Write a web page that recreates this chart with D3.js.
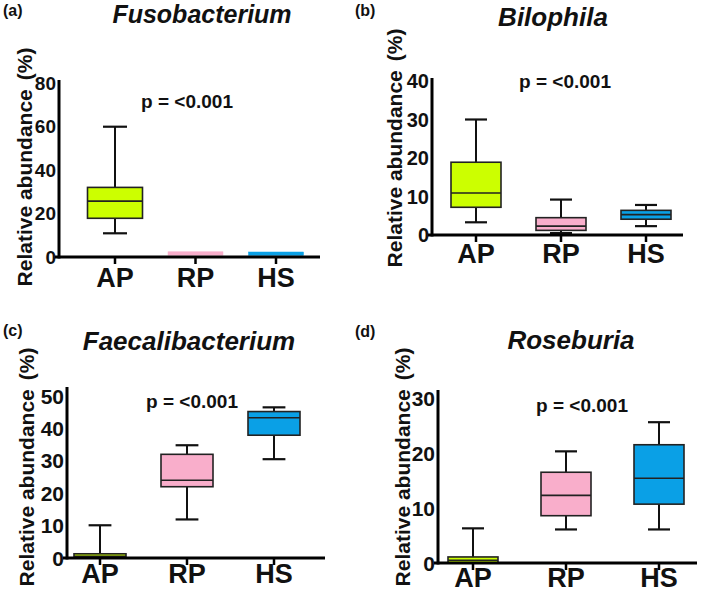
<!DOCTYPE html>
<html><head><meta charset="utf-8">
<script src="https://cdn.jsdelivr.net/npm/d3@7"></script>
<style>
body{margin:0;background:#fff}
svg{display:block}
text{font-family:"Liberation Sans",Arial,Helvetica,sans-serif;font-weight:bold;fill:#111}
</style>
</head><body>
<svg id="chart" width="709" height="597"></svg>
<script>
// ---------- data ----------
const groups = ["AP", "RP", "HS"];
const genera = ["Fusobacterium", "Bilophila", "Faecalibacterium", "Roseburia"];
const panelTags = ["(a)", "(b)", "(c)", "(d)"];
const pValueText = "p = <0.001";
const yTitleText = "Relative abundance";
const yUnitText = "(%)";
const yMaxValues = [80, 40, 50, 30];
const yTicksFuso = [0, 20, 40, 60, 80];
const yTicksBilo = [0, 10, 20, 30, 40];
const yTicksFaec = [0, 10, 20, 30, 40, 50];
const yTicksRose = [0, 10, 20, 30];
// five-number summaries per group: [min, q1, median, q3, max]
const fusobacterium    = [[10.9, 17.8, 25.7, 32.0, 59.9], [0.8, 0.8, 1.6, 2.4, 2.4], [0.7, 0.7, 1.5, 2.3, 2.3]];
const bilophila        = [[3.3, 7.2, 10.9, 18.9, 30.0], [0.5, 1.2, 2.3, 4.5, 9.2], [2.3, 4.1, 5.3, 6.4, 7.8]];
const faecalibacterium = [[0, 0, 0.5, 1.3, 10.1], [11.9, 22.0, 24.0, 32.0, 34.8], [30.5, 37.9, 43.3, 45.2, 46.5]];
const roseburia        = [[0, 0, 0.5, 1.1, 6.3], [6.1, 8.6, 12.3, 16.5, 20.3], [6.1, 10.7, 15.4, 21.5, 25.6]];

// ---------- styling / layout ----------
const groupColors = ["#ccff00", "#f9aecb", "#0aa0e6"];
const panelData = [fusobacterium, bilophila, faecalibacterium, roseburia];
const panelTicks = [yTicksFuso, yTicksBilo, yTicksFaec, yTicksRose];
const layout = [
  {axisX:59,  y0:257, yTop:83,  axisTop:80,  xEnd:320, c0:115, c2:276, boxW:55, titleX:202, titleY:23,  titleFs:25, pX:187, pY:108, tagX:3,   tagY:16,  ytX:32,  ytY:167, xLabY:287, tickFs:19},
  {axisX:432, y0:235, yTop:81,  axisTop:78,  xEnd:683, c0:476, c2:646, boxW:50, titleX:553, titleY:26,  titleFs:26, pX:565, pY:88,  tagX:355, tagY:16,  ytX:402, ytY:148, xLabY:263, tickFs:20},
  {axisX:67,  y0:558, yTop:396, axisTop:387, xEnd:325, c0:100, c2:274, boxW:52, titleX:189, titleY:350, titleFs:26, pX:192, pY:408, tagX:3,   tagY:336, ytX:34,  ytY:467, xLabY:583, tickFs:21},
  {axisX:438, y0:563, yTop:398, axisTop:390, xEnd:697, c0:473, c2:659, boxW:50, titleX:571, titleY:349, titleFs:26, pX:582, pY:412, tagX:355, tagY:337, ytX:410, ytY:467, xLabY:587, tickFs:21}
];

const svg = d3.select("#chart");

panelData.forEach((data, i) => {
  const L = layout[i];
  const g = svg.append("g");
  const y = d3.scaleLinear().domain([0, yMaxValues[i]]).range([L.y0, L.yTop]);
  const x = d3.scalePoint().domain(groups).range([L.c0, L.c2]);

  // panel tag
  g.append("text").attr("x", L.tagX).attr("y", L.tagY).attr("font-size", 16).text(panelTags[i]);
  // title
  g.append("text").attr("x", L.titleX).attr("y", L.titleY).attr("text-anchor", "middle")
    .attr("font-size", L.titleFs).attr("font-style", "italic").text(genera[i]);
  // p value
  g.append("text").attr("x", L.pX).attr("y", L.pY).attr("text-anchor", "middle")
    .attr("font-size", 19).text(pValueText);
  // y title
  const yt = g.append("text").attr("transform", `translate(${L.ytX},${L.ytY}) rotate(-90)`)
    .attr("text-anchor", "middle").attr("font-size", 21);
  yt.append("tspan").text(yTitleText);
  yt.append("tspan").attr("dx", 9).text(yUnitText);

  // y tick labels
  g.selectAll(".yt").data(panelTicks[i]).join("text")
    .attr("x", L.axisX - 3).attr("y", d => y(d)).attr("dy", "0.36em")
    .attr("text-anchor", "end").attr("font-size", L.tickFs).text(d => d);

  // boxes
  data.forEach((s, j) => {
    const [mn, q1, md, q3, mx] = s;
    const cx = x(groups[j]);
    const w = L.boxW, cap = w * 0.4;
    const bg = g.append("g");
    if (mx > q3) {
      bg.append("line").attr("x1", cx).attr("x2", cx).attr("y1", y(q3)).attr("y2", y(mx)).attr("stroke", "#111").attr("stroke-width", 2);
      bg.append("line").attr("x1", cx - cap / 2 - 1).attr("x2", cx + cap / 2 + 1).attr("y1", y(mx)).attr("y2", y(mx)).attr("stroke", "#111").attr("stroke-width", 2.2);
    }
    if (mn < q1) {
      bg.append("line").attr("x1", cx).attr("x2", cx).attr("y1", y(q1)).attr("y2", y(mn)).attr("stroke", "#111").attr("stroke-width", 2);
      bg.append("line").attr("x1", cx - cap / 2 - 1).attr("x2", cx + cap / 2 + 1).attr("y1", y(mn)).attr("y2", y(mn)).attr("stroke", "#111").attr("stroke-width", 2.2);
    }
    const h = y(q1) - y(q3);
    const thin = h < 4;
    bg.append("rect").attr("x", cx - w / 2).attr("y", y(q3)).attr("width", w).attr("height", Math.max(h, 1))
      .attr("fill", groupColors[j]).attr("stroke", thin ? groupColors[j] : "#222").attr("stroke-width", thin ? 0.5 : 1.6);
    if (!thin) {
      bg.append("line").attr("x1", cx - w / 2).attr("x2", cx + w / 2).attr("y1", y(md)).attr("y2", y(md))
        .attr("stroke", "#222").attr("stroke-width", 1.6);
    }
  });

  // axes
  g.append("line").attr("x1", L.axisX).attr("x2", L.axisX).attr("y1", L.axisTop).attr("y2", L.y0 + 1.5)
    .attr("stroke", "#000").attr("stroke-width", 3);
  g.append("line").attr("x1", L.axisX - 4).attr("x2", L.xEnd).attr("y1", L.y0).attr("y2", L.y0)
    .attr("stroke", "#000").attr("stroke-width", 3);
  g.selectAll(".xt").data(groups).join("line")
    .attr("x1", d => x(d)).attr("x2", d => x(d)).attr("y1", L.y0).attr("y2", L.y0 + 7)
    .attr("stroke", "#000").attr("stroke-width", 2.5);
  g.selectAll(".xl").data(groups).join("text")
    .attr("x", d => x(d)).attr("y", L.xLabY).attr("text-anchor", "middle")
    .attr("font-size", 27).text(d => d);
});
</script>
</body></html>
